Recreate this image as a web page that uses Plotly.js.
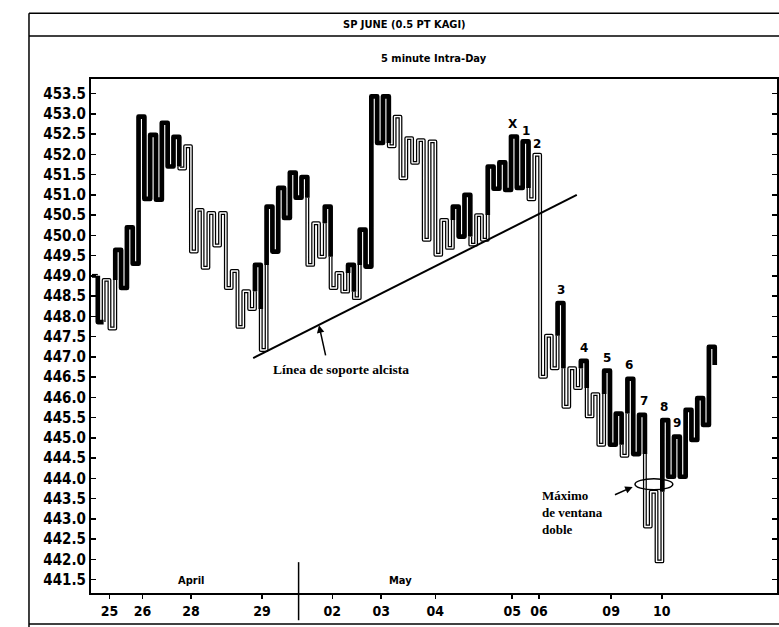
<!DOCTYPE html>
<html>
<head>
<meta charset="utf-8">
<script src="https://cdn.plot.ly/plotly-3.0.1.min.js"></script>
<style>
  html, body { margin: 0; padding: 0; background: #fff; }
  #chart { width: 779px; height: 627px; }
  .js-line { stroke-linejoin: round !important; }
</style>
</head>
<body>
<div id="chart"></div>
<script>
// ---- Kagi reversal prices (index 0 = starting level) ----
const kagiPrices = [
  449.0, 447.86, 448.9, 447.7, 449.64, 448.7, 450.2, 449.3, 452.93, 450.9,
  452.48, 450.88, 452.78, 451.7, 452.43, 451.65, 452.2, 449.6, 450.63, 449.2,
  450.55, 449.75, 450.55, 448.7, 449.12, 447.74, 448.62, 448.18, 449.27, 447.17,
  450.71, 449.6, 451.17, 450.43, 451.55, 450.93, 451.44, 449.27, 450.3, 449.47,
  450.71, 448.7, 449.07, 448.61, 449.27, 448.45, 450.14, 449.23, 453.43, 452.28,
  453.43, 452.2, 452.93, 451.41, 452.4, 451.79, 452.35, 449.89, 452.32, 449.52,
  450.38, 449.69, 450.71, 449.97, 451.0, 449.77, 450.5, 449.89, 451.7, 451.15,
  451.8, 451.12, 452.44, 451.17, 452.32, 450.89, 451.99, 446.51, 447.52, 446.72,
  448.33, 445.77, 446.72, 446.23, 446.9, 445.53, 446.08, 444.83, 446.66, 444.83,
  445.6, 444.56, 446.46, 444.6, 445.57, 442.81, 443.67, 441.95, 445.44, 444.04,
  445.03, 444.04, 445.69, 444.95, 445.98, 445.32, 447.25, 446.8
];
// 1 = thick (yang) line at the end of each segment, 0 = thin (yin)
const kagiYang = [
  0, 1, 0, 0, 1, 1, 1, 1, 1, 1,
  1, 1, 1, 1, 1, 0, 0, 0, 0, 0,
  0, 0, 0, 0, 0, 0, 0, 0, 1, 0,
  1, 1, 1, 1, 1, 1, 1, 0, 0, 0,
  1, 0, 0, 0, 1, 0, 1, 1, 1, 1,
  1, 0, 0, 0, 0, 0, 0, 0, 0, 0,
  0, 0, 1, 1, 1, 0, 0, 0, 1, 1,
  1, 1, 1, 1, 1, 0, 0, 0, 0, 0,
  1, 0, 0, 0, 1, 0, 0, 0, 1, 1,
  1, 0, 1, 1, 1, 0, 0, 0, 1, 1,
  1, 1, 1, 1, 1, 1, 1, 1
];
// date tick labels (positions in Kagi line index units)
const dateTickPos = [3.0, 8.7, 17, 29.2, 41.3, 49.7, 59, 72.2, 76.8, 89.2, 97.9];
const dateTickText = ['25', '26', '28', '29', '02', '03', '04', '05', '06', '09', '10'];
const monthPos = [17, 53];
const monthText = ['April', 'May'];
const monthDivider = 35.5;
// peak labels
const peakText = ['X', '1', '2', '3', '4', '5', '6', '7', '8', '9'];
const peakX = [72.3, 74.6, 76.5, 80.6, 84.6, 88.5, 92.3, 94.8, 98.2, 100.5];
const peakY = [452.75, 452.58, 452.26, 448.65, 447.22, 446.98, 446.8, 445.91, 445.77, 445.37];
// support line (two anchor points)
const supportX = [27.7, 83.3];
const supportY = [446.97, 451.0];
// double window top ellipse
const windowX = [93.3, 99.8];
const windowY = [443.72, 443.99];
// y ticks
const yTicks = [];
for (let v = 441.5; v <= 453.51; v += 0.5) yTicks.push(+v.toFixed(1));

// ---- build Kagi pieces ----
function buildKagi(P, Y) {
  const pieces = [];
  let cur = { state: Y[0], pts: [[0, P[0]]] };
  const add = (x, y) => cur.pts.push([x, y]);
  for (let i = 1; i < P.length; i++) {
    const a = P[i - 1], b = P[i];
    add(i, a);
    if (Y[i] !== cur.state) {
      let t = i >= 2 ? P[i - 2] : null;
      const lo = Math.min(a, b), hi = Math.max(a, b);
      if (t === null || t <= lo || t >= hi) t = a;
      add(i, t);
      pieces.push(cur);
      cur = { state: Y[i], pts: [[i, t]] };
    }
    add(i, b);
    if (i < P.length - 1) add(i + 1, b);
  }
  pieces.push(cur);
  const out = { thick: { x: [], y: [] }, thin: { x: [], y: [] } };
  pieces.forEach(p => {
    const tgt = p.state ? out.thick : out.thin;
    p.pts.forEach(q => { tgt.x.push(q[0]); tgt.y.push(q[1]); });
    tgt.x.push(null); tgt.y.push(null);
  });
  return out;
}
const k = buildKagi(kagiPrices, kagiYang);

const traces = [
  { x: k.thin.x, y: k.thin.y, mode: 'lines', line: { color: '#000', width: 3.9 }, hoverinfo: 'skip', connectgaps: false },
  { x: k.thin.x, y: k.thin.y, mode: 'lines', line: { color: '#fff', width: 1.4 }, hoverinfo: 'skip', connectgaps: false },
  { x: k.thick.x, y: k.thick.y, mode: 'lines', line: { color: '#000', width: 4.7 }, hoverinfo: 'skip', connectgaps: false },
  { x: supportX, y: supportY, mode: 'lines', line: { color: '#000', width: 2 }, hoverinfo: 'skip' }
];

const condBold = "'DejaVu Sans Condensed', 'DejaVu Sans', sans-serif";
const serif = "'Liberation Serif', 'Times New Roman', serif";

const annotations = [];
annotations.push({ xref: 'paper', yref: 'paper', x: 0.4577, y: 1.107, text: 'SP JUNE (0.5 PT KAGI)', showarrow: false,
  font: { family: condBold, size: 11, weight: 'bold', color: '#000' }, xanchor: 'center', yanchor: 'middle' });
annotations.push({ xref: 'paper', yref: 'paper', x: 0.5, y: 1.039, text: '5 minute Intra-Day', showarrow: false,
  font: { family: condBold, size: 11, weight: 'bold', color: '#000' }, xanchor: 'center', yanchor: 'middle' });
peakText.forEach((t, i) => annotations.push({ xref: 'x', yref: 'y', x: peakX[i], y: peakY[i], text: t, showarrow: false,
  font: { family: "'DejaVu Sans', sans-serif", size: 12, weight: 'bold', color: '#000' }, xanchor: 'center', yanchor: 'middle' }));
monthText.forEach((t, i) => annotations.push({ xref: 'x', yref: 'paper', x: monthPos[i], y: 0.024, text: t, showarrow: false,
  font: { family: condBold, size: 11, weight: 'bold', color: '#000' }, xanchor: 'center', yanchor: 'middle' }));
annotations.push({ xref: 'x', yref: 'y', x: 30.7, y: 446.7, text: 'Línea de soporte alcista', showarrow: false,
  font: { family: serif, size: 13.5, weight: 'bold', color: '#000' }, xanchor: 'left', yanchor: 'middle' });
annotations.push({ xref: 'x', yref: 'y', axref: 'x', ayref: 'y', x: 39, y: 447.78, ax: 40.2, ay: 447.0, text: '',
  showarrow: true, arrowhead: 2, arrowsize: 1, arrowwidth: 1.5, arrowcolor: '#000' });
annotations.push({ xref: 'x', yref: 'y', x: 77.0, y: 443.15, text: 'Máximo<br>de ventana<br>doble', showarrow: false, align: 'left',
  font: { family: serif, size: 13, weight: 'bold', color: '#000' }, xanchor: 'left', yanchor: 'middle' });
annotations.push({ xref: 'x', yref: 'y', axref: 'x', ayref: 'y', x: 92.9, y: 443.79, ax: 89.6, ay: 443.58, text: '',
  showarrow: true, arrowhead: 2, arrowsize: 1, arrowwidth: 1.5, arrowcolor: '#000' });

const shapes = [
  // outer frame
  { type: 'line', xref: 'paper', yref: 'paper', x0: -0.0904, x1: -0.0904, y0: 1.128, y1: -0.07, line: { color: '#000', width: 1.5 } },
  { type: 'line', xref: 'paper', yref: 'paper', x0: -0.0904, x1: 1.01, y0: 1.128, y1: 1.128, line: { color: '#000', width: 1.5 } },
  { type: 'line', xref: 'paper', yref: 'paper', x0: -0.0904, x1: 1.01, y0: 1.0837, y1: 1.0837, line: { color: '#000', width: 1.5 } },
  { type: 'line', xref: 'paper', yref: 'paper', x0: -0.0904, x1: 1.01, y0: -0.0603, y1: -0.0603, line: { color: '#000', width: 1.5 } },
  // month divider
  { type: 'line', xref: 'x', yref: 'paper', x0: monthDivider, x1: monthDivider, y0: -0.053, y1: 0.06, line: { color: '#000', width: 1.5 } },
  // ellipse
  { type: 'circle', xref: 'x', yref: 'y', x0: windowX[0], x1: windowX[1], y0: windowY[0], y1: windowY[1], line: { color: '#000', width: 1.5 } }
];

const layout = {
  width: 779, height: 627,
  margin: { l: 91, r: 2, t: 79, b: 34, pad: 0 },
  paper_bgcolor: '#fff', plot_bgcolor: '#fff',
  showlegend: false,
  xaxis: {
    range: [-0.17, 117.7], showgrid: false, zeroline: false,
    showline: true, linecolor: '#000', linewidth: 2, mirror: true,
    tickmode: 'array', tickvals: dateTickPos, ticktext: dateTickText,
    ticks: 'outside', ticklen: 4, tickwidth: 1.5, tickcolor: '#000',
    tickfont: { family: condBold, size: 14, weight: 'bold', color: '#000' }
  },
  yaxis: {
    range: [441.17, 453.86], showgrid: false, zeroline: false,
    showline: true, linecolor: '#000', linewidth: 2, mirror: 'ticks',
    tickmode: 'array', tickvals: yTicks, ticktext: yTicks.map(v => v.toFixed(1)),
    ticks: 'inside', ticklen: 5, tickwidth: 1.5, tickcolor: '#000',
    tickfont: { family: condBold, size: 15, weight: 'bold', color: '#000' }
  },
  annotations: annotations,
  shapes: shapes
};

Plotly.newPlot('chart', traces, layout, { staticPlot: true, displayModeBar: false });
</script>
</body>
</html>
